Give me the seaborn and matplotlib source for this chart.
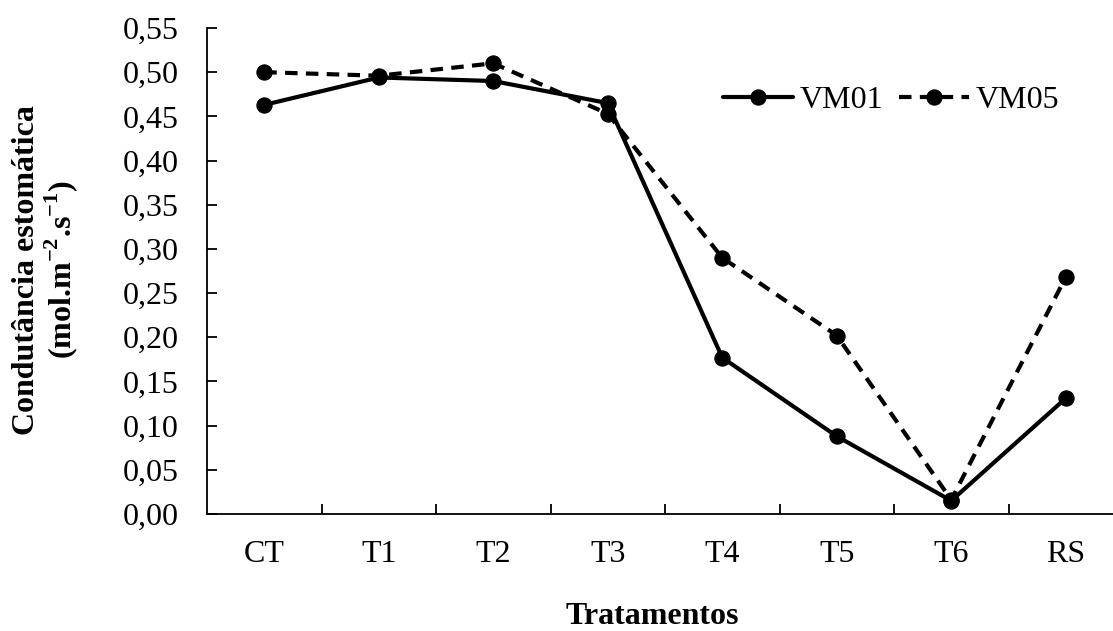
import matplotlib
matplotlib.use("Agg")
import matplotlib.pyplot as plt
import seaborn as sns
import pandas as pd

categories = ["CT", "T1", "T2", "T3", "T4", "T5", "T6", "RS"]
vm01 = [0.463, 0.494, 0.490, 0.465, 0.177, 0.088, 0.015, 0.131]
vm05 = [0.500, 0.496, 0.510, 0.453, 0.290, 0.202, 0.016, 0.268]
yticks = [0.00, 0.05, 0.10, 0.15, 0.20, 0.25, 0.30, 0.35, 0.40, 0.45, 0.50, 0.55]

sns.set_style("white")
plt.rcParams['font.family'] = ['Liberation Serif', 'DejaVu Serif']
plt.rcParams['mathtext.fontset'] = 'custom'
plt.rcParams['mathtext.rm'] = 'Liberation Serif'
plt.rcParams['mathtext.bf'] = 'Liberation Serif:bold'
plt.rcParams['text.color'] = 'black'
plt.rcParams['axes.labelcolor'] = 'black'
plt.rcParams['xtick.color'] = 'black'
plt.rcParams['ytick.color'] = 'black'

FS = 23

df = pd.DataFrame({
    "Tratamento": categories * 2,
    "valor": vm01 + vm05,
    "serie": ["VM01"] * len(categories) + ["VM05"] * len(categories),
})
df["pos"] = list(range(len(categories))) * 2

fig = plt.figure(figsize=(11.13, 6.31), dpi=100)
ax = fig.add_axes([207 / 1113, 1 - 514 / 631, (1123 - 207) / 1113, (514 - 28) / 631])

sns.lineplot(data=df[df.serie == "VM01"], x="pos", y="valor", ax=ax, color="black",
             linewidth=3, marker="o", markersize=11, markeredgecolor="black",
             label="VM01", linestyle="-")
sns.lineplot(data=df[df.serie == "VM05"], x="pos", y="valor", ax=ax, color="black",
             linewidth=3, marker="o", markersize=11, markeredgecolor="black",
             label="VM05", linestyle=(0, (3, 2)))

ax.set_xlim(-0.5, len(categories) - 0.5)
ax.set_ylim(0, 0.55)
ax.set_yticks(yticks)
ax.set_yticklabels([f"{v:.2f}".replace(".", ",") for v in yticks], fontsize=FS)
ax.set_xticks(range(len(categories)))
ax.set_xticklabels(categories, fontsize=FS)
ax.tick_params(axis="x", which="major", length=0, pad=19, bottom=True)
ax.set_xticks([i + 0.5 for i in range(len(categories) - 1)], minor=True)
ax.tick_params(axis="x", which="minor", direction="in", length=7, width=1.3,
               color="black", bottom=True)
ax.tick_params(axis="y", direction="in", length=7, width=1.3, color="black", pad=20.5,
               left=True)

for s in ["top", "right"]:
    ax.spines[s].set_visible(False)
for s in ["left", "bottom"]:
    ax.spines[s].set_color("black")
    ax.spines[s].set_linewidth(1.3)

ax.set_xlabel("Tratamentos", fontsize=FS, fontweight="bold")
ax.xaxis.set_label_coords((652 - 207) / 916, -(617 - 514) / 486)
ax.xaxis.label.set_va("center")
ax.set_ylabel("Condutância estomática\n(mol.m$^{\\mathbf{-2}}$.s$^{\\mathbf{-1}}$)",
              fontsize=FS, fontweight="bold", linespacing=1.05)
ax.yaxis.set_label_coords(-(207 - 46) / 916, (514 - 270) / 486)
ax.yaxis.label.set_va("center")

leg = ax.legend(loc="upper left", bbox_to_anchor=(503 / 916, 0.908), ncol=2, frameon=False,
                fontsize=FS, handlelength=2.2, handletextpad=0.22, columnspacing=0.47,
                borderaxespad=0)

fig.savefig("out.png", dpi=100)
